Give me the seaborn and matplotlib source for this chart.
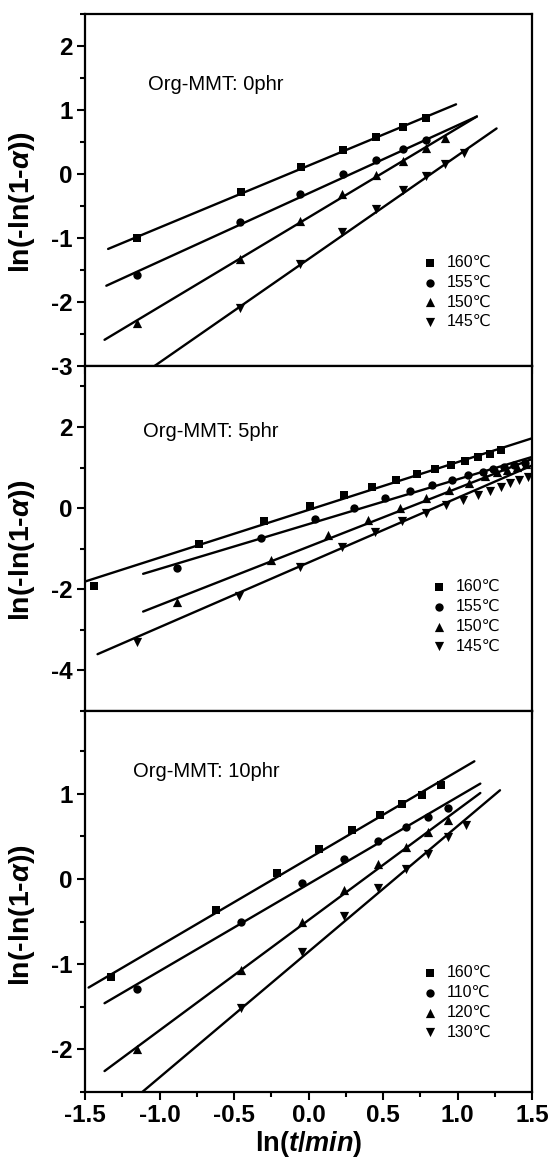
import numpy as np
import seaborn as sns
import matplotlib.pyplot as plt
from matplotlib.ticker import MultipleLocator

# ---- 数据：Org-MMT 0phr ----
x0_160 = [-1.153, -0.453, -0.051, 0.231, 0.455, 0.635, 0.790]
y0_160 = [-0.995, -0.286, 0.109, 0.370, 0.580, 0.740, 0.875]
x0_155 = [-1.153, -0.460, -0.058, 0.231, 0.455, 0.635, 0.790]
y0_155 = [-1.57, -0.755, -0.31, 0.0, 0.215, 0.385, 0.525]
x0_150 = [-1.153, -0.460, -0.058, 0.228, 0.455, 0.635, 0.790, 0.919]
y0_150 = [-2.32, -1.32, -0.73, -0.31, -0.01, 0.20, 0.41, 0.57]
x0_145 = [-0.460, -0.058, 0.228, 0.455, 0.635, 0.790, 0.919, 1.045]
y0_145 = [-2.09, -1.40, -0.90, -0.54, -0.25, -0.03, 0.16, 0.33]
# 拟合直线的起止点
fit0_x = [[-1.345, 0.99], [-1.357, 1.13], [-1.369, 1.13], [-1.034, 1.262]]
fit0_y = [[-1.17, 1.09], [-1.745, 0.90], [-2.59, 0.90], [-3.0, 0.713]]

# ---- 数据：Org-MMT 5phr ----
x5_160 = [-1.44, -0.735, -0.298, 0.011, 0.237, 0.424, 0.59, 0.725, 0.846, 0.955, 1.048, 1.135, 1.215, 1.29]
y5_160 = [-1.92, -0.88, -0.33, 0.04, 0.32, 0.53, 0.70, 0.84, 0.96, 1.07, 1.16, 1.25, 1.33, 1.42]
x5_155 = [-0.883, -0.317, 0.044, 0.307, 0.513, 0.681, 0.831, 0.961, 1.07, 1.169, 1.24, 1.31, 1.38, 1.45]
y5_155 = [-1.465, -0.741, -0.27, 0.0, 0.25, 0.43, 0.58, 0.70, 0.82, 0.90, 0.96, 1.01, 1.07, 1.12]
x5_150 = [-0.883, -0.255, 0.128, 0.40, 0.614, 0.789, 0.945, 1.077, 1.185, 1.263, 1.33, 1.40, 1.46]
y5_150 = [-2.32, -1.29, -0.675, -0.29, 0.0, 0.26, 0.45, 0.62, 0.78, 0.88, 0.95, 1.02, 1.08]
x5_145 = [-1.153, -0.465, -0.058, 0.224, 0.448, 0.63, 0.79, 0.92, 1.035, 1.14, 1.22, 1.29, 1.35, 1.41, 1.47]
y5_145 = [-3.31, -2.16, -1.46, -0.97, -0.60, -0.32, -0.11, 0.07, 0.21, 0.33, 0.43, 0.53, 0.61, 0.69, 0.77]
fit5_x = [[-1.5, 1.5], [-1.11, 1.5], [-1.11, 1.5], [-1.416, 1.5]]
fit5_y = [[-1.81, 1.72], [-1.62, 1.26], [-2.55, 1.21], [-3.6, 1.05]]

# ---- 数据：Org-MMT 10phr ----
x10_160 = [-1.325, -0.622, -0.213, 0.067, 0.289, 0.481, 0.629, 0.759, 0.886]
y10_160 = [-1.15, -0.37, 0.07, 0.35, 0.575, 0.745, 0.88, 0.99, 1.10]
x10_110 = [-1.153, -0.453, -0.047, 0.240, 0.465, 0.651, 0.800, 0.939]
y10_110 = [-1.29, -0.50, -0.05, 0.23, 0.44, 0.61, 0.73, 0.835]
x10_120 = [-1.153, -0.453, -0.047, 0.240, 0.465, 0.651, 0.800, 0.939]
y10_120 = [-2.0, -1.07, -0.50, -0.13, 0.17, 0.38, 0.55, 0.69]
x10_130 = [-0.453, -0.047, 0.240, 0.465, 0.651, 0.800, 0.939, 1.058]
y10_130 = [-1.51, -0.86, -0.44, -0.11, 0.12, 0.29, 0.49, 0.63]
fit10_x = [[-1.476, 1.113], [-1.369, 1.153], [-1.369, 1.153], [-1.129, 1.285]]
fit10_y = [[-1.275, 1.38], [-1.459, 1.118], [-2.255, 1.008], [-2.52, 1.04]]

labels_a = ['160℃', '155℃', '150℃', '145℃']
labels_b = ['160℃', '110℃', '120℃', '130℃']
titles = ['Org-MMT: 0phr', 'Org-MMT: 5phr', 'Org-MMT: 10phr']

sns.set_style('ticks')
plt.rcParams['font.family'] = ['Liberation Sans', 'DejaVu Sans']
plt.rcParams['text.color'] = 'black'
plt.rcParams['axes.labelcolor'] = 'black'
plt.rcParams['axes.unicode_minus'] = False
plt.rcParams['mathtext.fontset'] = 'custom'
plt.rcParams['mathtext.rm'] = 'Liberation Sans:bold'
plt.rcParams['mathtext.it'] = 'Liberation Sans:italic:bold'

markers = ['s', 'o', '^', 'v']
sizes = [30, 36, 44, 44]

fig = plt.figure(figsize=(5.56, 11.65), dpi=100)
left, width = 0.1529, 0.804
ax1 = fig.add_axes([left, 0.6858, width, 0.3021])
ax2 = fig.add_axes([left, 0.3897, width, 0.2961])
ax3 = fig.add_axes([left, 0.0627, width, 0.3270])

panels = [
    (ax1, [(x0_160, y0_160), (x0_155, y0_155), (x0_150, y0_150), (x0_145, y0_145)],
     fit0_x, fit0_y, labels_a, (-3, 2.5), 1, 0.5, (-1.077, 1.40), (0.754, 0.21)),
    (ax2, [(x5_160, y5_160), (x5_155, y5_155), (x5_150, y5_150), (x5_145, y5_145)],
     fit5_x, fit5_y, labels_a, (-5, 3.5), 2, 1, (-1.11, 1.89), (0.773, 0.274)),
    (ax3, [(x10_160, y10_160), (x10_110, y10_110), (x10_120, y10_120), (x10_130, y10_130)],
     fit10_x, fit10_y, labels_b, (-2.5, 1.97), 1, 0.5, (-1.177, 1.255), (0.754, 0.235)),
]

for i, (ax, series, fx, fy, labs, ylim, ymaj, ymin, tpos, lpos) in enumerate(panels):
    for k, (xs, ys) in enumerate(series):
        sns.lineplot(x=fx[k], y=fy[k], color='black', linewidth=1.7, ax=ax)
        sns.scatterplot(x=xs, y=ys, marker=markers[k], s=sizes[k], color='black',
                        edgecolor='black', linewidth=0, label=labs[k], ax=ax, zorder=3)
    ax.set_xlim(-1.5, 1.5)
    ax.set_ylim(*ylim)
    ax.xaxis.set_major_locator(MultipleLocator(0.5))
    ax.xaxis.set_minor_locator(MultipleLocator(0.25))
    ax.yaxis.set_major_locator(MultipleLocator(ymaj))
    ax.yaxis.set_minor_locator(MultipleLocator(ymin))
    ax.tick_params(which='major', direction='out', length=6, width=1.5,
                   labelsize=17.5, colors='black', pad=3)
    ax.tick_params(which='minor', direction='out', length=3.5, width=1.5, colors='black')
    for lab in ax.get_xticklabels() + ax.get_yticklabels():
        lab.set_fontweight('bold')
    for sp in ax.spines.values():
        sp.set_linewidth(1.6)
        sp.set_color('black')
    ax.set_ylabel(r'ln(-ln(1-$\alpha$))', fontsize=20.5, fontweight='bold')
    ax.yaxis.set_label_coords(-0.107, 0.465)
    ax.text(tpos[0], tpos[1], titles[i], fontsize=14.5, va='center', ha='left', color='black')
    ax.legend(loc='center left', bbox_to_anchor=lpos, frameon=False, fontsize=11.5,
              handlelength=1.0, handletextpad=0.55, labelspacing=0.3,
              borderpad=0, borderaxespad=0, markerscale=1.0, labelcolor='black')
    if i < 2:
        ax.tick_params(labelbottom=False)
        ax.set_xlabel('')

ax3.set_xlabel(r'ln($t/min$)', fontsize=19.5, fontweight='bold', labelpad=1)

fig.savefig('out.png', dpi=100)
